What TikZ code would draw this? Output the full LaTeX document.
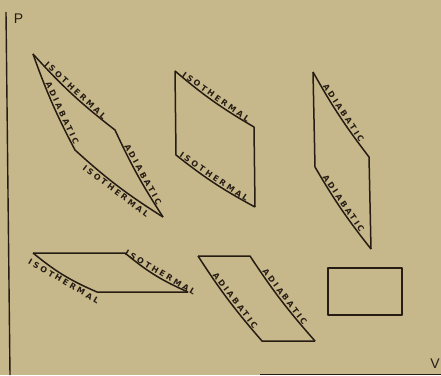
\documentclass[tikz,border=0pt]{standalone}
\usepackage{fontspec}
\newfontfamily\labfont[LetterSpace=30]{DejaVu Sans Bold}
\newfontfamily\axfont{Liberation Sans}
\definecolor{paper}{RGB}{198,184,138}
\definecolor{ink}{RGB}{38,28,20}
\tikzset{
  curve/.style={draw=ink, line width=1.5pt, line join=round},
  lab/.style={font=\labfont\fontsize{8}{8}\selectfont, text=ink, sloped, inner sep=1.3pt},
  axlab/.style={font=\axfont\fontsize{14}{14}\selectfont, text=ink, inner sep=0pt}
}
\begin{document}
\begin{tikzpicture}[x=1pt,y=-1pt]
\fill[paper] (0,0) rectangle (441,375);
\useasboundingbox (0,0) rectangle (441,375);
% axes
\coordinate (ptop) at (6,12);
\coordinate (pbot) at (10,375);
\coordinate (vl) at (260,374.5);
\coordinate (vr) at (441,374.5);
\draw[ink, line width=1.4pt] (ptop) -- (pbot);
\draw[ink, line width=1.1pt] (vl) -- (vr);
\node[axlab] (P) at (18.5,19) {P};
\node[axlab] (V) at (435,364) {V};
% figure 1
\coordinate (a1) at (33,54);
\coordinate (b1) at (115,130);
\coordinate (c1) at (75,150);
\coordinate (d1) at (163,217);
\draw[curve] (a1) to[bend right=5] node[lab, above, pos=0.5] {ISOTHERMAL} (b1)
  to[bend right=4] node[lab, above, pos=0.53] {ADIABATIC} (d1);
\draw[curve] (a1) to[bend right=4] node[lab, above, pos=0.64] {ADIABATIC} (c1)
  to[bend right=5] node[lab, below, pos=0.52] {ISOTHERMAL} (d1);
% figure 2
\coordinate (a2) at (175,71);
\coordinate (b2) at (254,127);
\coordinate (c2) at (176,155);
\coordinate (d2) at (255,207);
\draw[curve] (a2) to[bend right=5] node[lab, above, pos=0.5] {ISOTHERMAL} (b2) -- (d2);
\draw[curve] (a2) -- (c2) to[bend right=5] node[lab, above, pos=0.46] {ISOTHERMAL} (d2);
% figure 3
\coordinate (a3) at (313,72);
\coordinate (b3) at (369,157);
\coordinate (c3) at (315,167);
\coordinate (d3) at (371,249);
\draw[curve] (a3) to[bend right=4] node[lab, above, pos=0.5] {ADIABATIC} (b3) -- (d3);
\draw[curve] (a3) -- (c3) to[bend right=4] node[lab, above, pos=0.46] {ADIABATIC} (d3);
% figure 4
\coordinate (a4) at (33,253);
\coordinate (b4) at (125,253);
\coordinate (c4) at (97,292);
\coordinate (d4) at (188,292);
\draw[curve] (a4) -- (b4) to[bend right=8] node[lab, above, pos=0.55] {ISOTHERMAL} (d4);
\draw[curve] (a4) to[bend right=8] node[lab, below, pos=0.55] {ISOTHERMAL} (c4) -- (d4);
% figure 5
\coordinate (a5) at (198,256);
\coordinate (b5) at (250,256);
\coordinate (c5) at (262,341);
\coordinate (d5) at (315,341);
\draw[curve] (a5) -- (b5) to[bend right=4] node[lab, above, pos=0.5] {ADIABATIC} (d5);
\draw[curve] (a5) to[bend right=4] node[lab, above, pos=0.55] {ADIABATIC} (c5) -- (d5);
% figure 6
\coordinate (a6) at (328,268);
\coordinate (d6) at (402,315);
\draw[curve] (a6) rectangle (d6);
\end{tikzpicture}
\end{document}
